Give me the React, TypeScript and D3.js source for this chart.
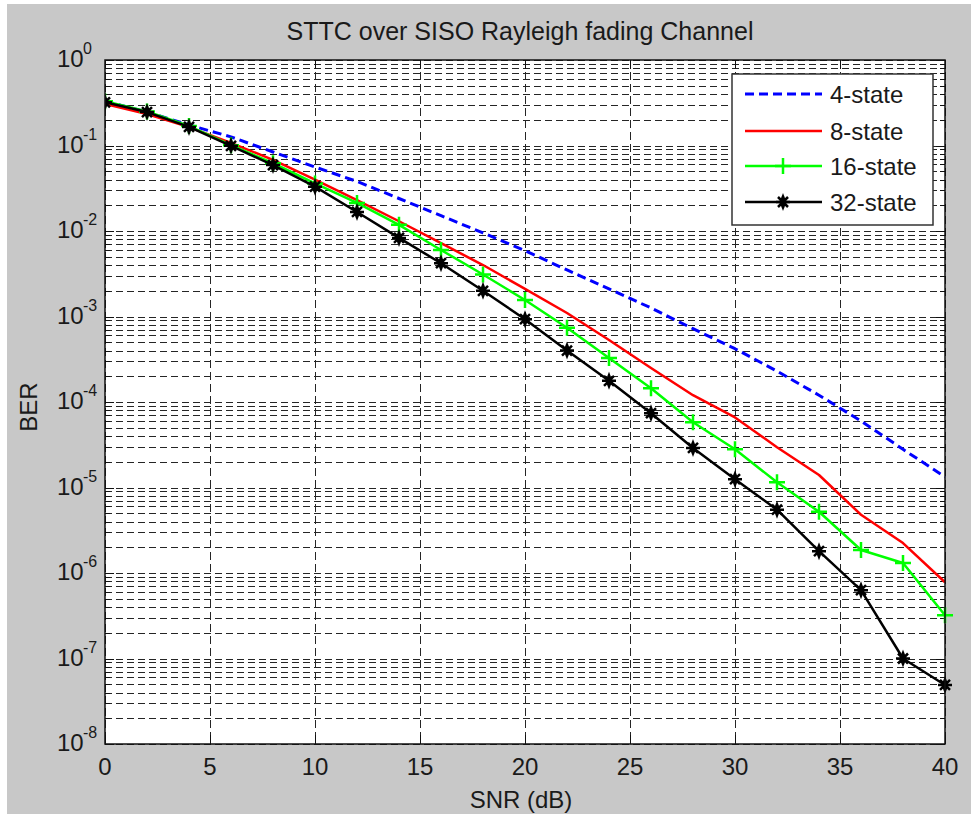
import React from 'react';
import * as d3 from 'd3';

// SNR points (dB)
const snr = [0, 2, 4, 6, 8, 10, 12, 14, 16, 18, 20, 22, 24, 26, 28, 30, 32, 34, 36, 38, 40];

// BER
const ber4 = [0.33, 0.246, 0.174, 0.126, 0.084, 0.056, 0.038, 0.024, 0.0151, 0.0095, 0.0059, 0.0035, 0.0021, 0.00126, 7.2e-4, 4.2e-4, 2.3e-4, 1.2e-4, 6.0e-5, 2.8e-5, 1.33e-5];
const ber8 = [0.306, 0.233, 0.164, 0.107, 0.068, 0.04, 0.023, 0.013, 0.0072, 0.004, 0.0021, 0.0011, 5.3e-4, 2.5e-4, 1.2e-4, 6.6e-5, 2.96e-5, 1.4e-5, 4.8e-6, 2.24e-6, 7.8e-7];
const ber16 = [0.33, 0.25, 0.169, 0.101, 0.062, 0.036, 0.0213, 0.0118, 0.006, 0.0031, 0.00156, 7.4e-4, 3.27e-4, 1.45e-4, 5.8e-5, 2.8e-5, 1.15e-5, 5.2e-6, 1.86e-6, 1.31e-6, 3.2e-7];
const ber32 = [0.32, 0.246, 0.165, 0.099, 0.059, 0.033, 0.0167, 0.0083, 0.0042, 0.002, 9.3e-4, 4.0e-4, 1.77e-4, 7.4e-5, 2.9e-5, 1.25e-5, 5.5e-6, 1.8e-6, 6.3e-7, 1.0e-7, 4.9e-8];

const xTicks = [0, 5, 10, 15, 20, 25, 30, 35, 40];
const yExps = [0, -1, -2, -3, -4, -5, -6, -7, -8];

const series = [
  { name: '4-state', values: ber4, color: '#0000ff', dash: '9,5', marker: null, width: 3 },
  { name: '8-state', values: ber8, color: '#ff0000', dash: null, marker: null, width: 2.5 },
  { name: '16-state', values: ber16, color: '#00ff00', dash: null, marker: 'plus', width: 2.5 },
  { name: '32-state', values: ber32, color: '#000000', dash: null, marker: 'star', width: 2.5 },
];

const W = 971;
const H = 814;
const left = 105, right = 945, top = 60, bottom = 744;
const font = '"Liberation Sans", Arial, Helvetica, sans-serif';
const txt = '#1a1a1a';

const x = d3.scaleLinear().domain([0, 40]).range([left, right]);
const y = d3.scaleLog().domain([1e-8, 1]).range([bottom, top]);

const Marker = ({ kind, cx, cy, color }) => {
  if (kind === 'plus') {
    const s = 8;
    return (
      <path d={`M${cx - s},${cy}H${cx + s}M${cx},${cy - s}V${cy + s}`} stroke={color} strokeWidth={2.5} fill="none" />
    );
  }
  if (kind === 'star') {
    const s = 7, d = 5;
    return (
      <g>
        <path d={`M${cx},${cy - 9}L${cx + 3.5},${cy}L${cx},${cy + 9}L${cx - 3.5},${cy}Z`} fill={color} />
        <path
          d={`M${cx - s},${cy}H${cx + s}M${cx - d},${cy - d}L${cx + d},${cy + d}M${cx - d},${cy + d}L${cx + d},${cy - d}`}
          stroke={color}
          strokeWidth={2.5}
          fill="none"
        />
      </g>
    );
  }
  return null;
};

export default function App() {
  const line = d3
    .line<number>()
    .x((_, i) => x(snr[i]))
    .y((v) => y(v));

  const minor: number[] = [];
  for (let e = -8; e < 0; e++) {
    for (let m = 2; m <= 9; m++) minor.push(m * Math.pow(10, e));
  }
  const major = yExps.map((e) => Math.pow(10, e));
  const ry = (v: number) => Math.round(y(v)) + 0.5;
  const rx = (v: number) => Math.round(x(v)) + 0.5;

  const legX = 732, legY = 74, legW = 201, legH = 151;
  const rowY = [94, 131, 166, 202];

  return (
    <svg width={W} height={H} style={{ position: 'absolute', left: 0, top: 0 }} fontFamily={font}>
      <rect x={0} y={0} width={W} height={H} fill="#ffffff" />
      <rect x={7} y={4} width={W - 7} height={H - 4} fill="#c8c8c8" />
      <rect x={left} y={top} width={right - left} height={bottom - top} fill="#ffffff" />

      <defs>
        <clipPath id="plotClip">
          <rect x={left} y={top - 10} width={right - left + 10} height={bottom - top + 20} />
        </clipPath>
      </defs>

      {/* grid */}
      <g stroke="#000" strokeWidth={1} fill="none" opacity={0.85}>
        {minor.map((v, i) => (
          <line key={'mn' + i} x1={left} x2={right} y1={ry(v)} y2={ry(v)} strokeDasharray="7,4" />
        ))}
        {major.map((v, i) => (
          <line key={'mj' + i} x1={left} x2={right} y1={ry(v)} y2={ry(v)} strokeDasharray="7,4" />
        ))}
        {xTicks.map((t) => (
          <line key={'vx' + t} x1={rx(t)} x2={rx(t)} y1={top} y2={bottom} strokeDasharray="8,4" />
        ))}
      </g>

      {/* ticks */}
      <g stroke="#111" strokeWidth={1}>
        {minor.map((v, i) => (
          <g key={'tm' + i}>
            <line x1={left} x2={left + 5} y1={ry(v)} y2={ry(v)} />
            <line x1={right - 5} x2={right} y1={ry(v)} y2={ry(v)} />
          </g>
        ))}
        {major.map((v, i) => (
          <g key={'tj' + i}>
            <line x1={left} x2={left + 9} y1={ry(v)} y2={ry(v)} />
            <line x1={right - 9} x2={right} y1={ry(v)} y2={ry(v)} />
          </g>
        ))}
        {xTicks.map((t) => (
          <g key={'tx' + t}>
            <line x1={rx(t)} x2={rx(t)} y1={bottom} y2={bottom - 9} />
            <line x1={rx(t)} x2={rx(t)} y1={top} y2={top + 9} />
          </g>
        ))}
      </g>

      {/* curves */}
      <g clipPath="url(#plotClip)">
        {series.map((s) => (
          <g key={s.name}>
            <path
              d={line(s.values) || ''}
              fill="none"
              stroke={s.color}
              strokeWidth={s.width}
              strokeDasharray={s.dash || undefined}
              strokeLinejoin="round"
            />
            {s.marker &&
              s.values.map((v, i) => (
                <Marker key={i} kind={s.marker} cx={x(snr[i])} cy={y(v)} color={s.color} />
              ))}
          </g>
        ))}
      </g>

      {/* axes box */}
      <rect x={left} y={top} width={right - left} height={bottom - top} fill="none" stroke="#111" strokeWidth={1.5} />

      {/* tick labels */}
      {xTicks.map((t) => (
        <text key={'lx' + t} x={x(t)} y={775} textAnchor="middle" fontSize={24} fill={txt}>
          {t}
        </text>
      ))}
      {yExps.map((e) => (
        <g key={'ly' + e}>
          <text x={57} y={y(Math.pow(10, e)) + 7} fontSize={24} fill={txt}>
            10
          </text>
          <text x={83} y={y(Math.pow(10, e)) - 6} fontSize={16} fill={txt}>
            {e}
          </text>
        </g>
      ))}

      {/* titles */}
      <text x={520} y={40} textAnchor="middle" fontSize={25} fill={txt}>
        STTC over SISO Rayleigh fading Channel
      </text>
      <text x={521} y={808} textAnchor="middle" fontSize={24} fill={txt}>
        SNR (dB)
      </text>
      <text transform="translate(37,407) rotate(-90)" textAnchor="middle" fontSize={24} fill={txt}>
        BER
      </text>

      {/* legend */}
      <rect x={legX} y={legY} width={legW} height={legH} fill="#ffffff" stroke="#333" strokeWidth={1.5} />
      {series.map((s, i) => (
        <g key={'lg' + s.name}>
          <line
            x1={745}
            x2={822}
            y1={rowY[i]}
            y2={rowY[i]}
            stroke={s.color}
            strokeWidth={s.width}
            strokeDasharray={s.dash || undefined}
          />
          {s.marker && <Marker kind={s.marker} cx={783} cy={rowY[i]} color={s.color} />}
          <text x={830} y={rowY[i] + 8.5} fontSize={24} fill={txt}>
            {s.name}
          </text>
        </g>
      ))}
    </svg>
  );
}
